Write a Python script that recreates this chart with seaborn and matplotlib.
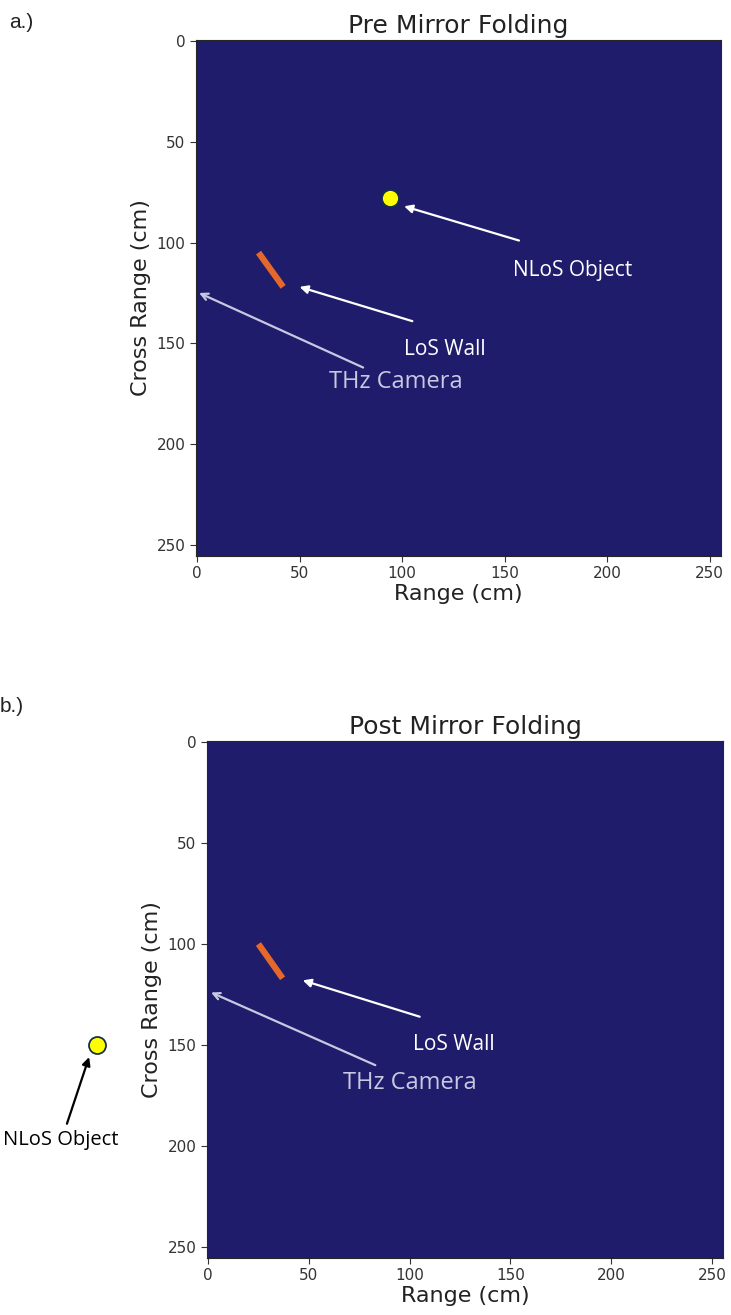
import numpy as np
import pandas as pd
import matplotlib
matplotlib.use("Agg")
import matplotlib.pyplot as plt
from matplotlib.colors import ListedColormap
import seaborn as sns

# scene data (cm)
grid_size = 256
titles = ["Pre Mirror Folding", "Post Mirror Folding"]
panel_tags = ["a.)", "b.)"]

# NLoS object position per panel
object_x = [94, -55]
object_y = [78, 150]

# LoS wall end points per panel
wall_x = [[30, 42], [25, 37]]
wall_y = [[105, 122], [100, 117]]

# callouts: text centre, arrow tail, arrow tip (data coords)
nlos_text = [(183, 114), (-73, 197)]
nlos_tail = [(157, 99), (-70, 189)]
nlos_tip = [(101, 82), (-59, 156)]
wall_text = [(121, 153), (122, 150)]
wall_tail = [(105, 139), (105, 136)]
wall_tip = [(50, 122), (47, 118)]
cam_text = [(97, 169), (100, 169)]
cam_tail = [(81, 162), (83, 160)]
cam_tip = [(1, 125), (1.5, 124)]

tick_vals = [0, 50, 100, 150, 200, 250]

NAVY = "#1f1c6b"
ORANGE = "#e5672a"
CAM_COLOR = "#c9c8e2"

sns.set_style("ticks")
plt.rcParams["font.family"] = ["DejaVu Sans"]

fig = plt.figure(figsize=(7.31, 13.15), dpi=100)
positions = [
    [0.2681, 0.5772, 0.7182, 0.3924],
    [0.2832, 0.0433, 0.7059, 0.3932],
]
tag_pos = [(0.013, 0.983), (0.0, 0.463)]


def callout(ax, label, text_xy, tail, tip, color, size, style):
    ax.text(*text_xy, label, ha="center", va="center", color=color,
            fontsize=size, family=["Open Sans"], clip_on=False)
    ax.annotate("", xy=tip, xytext=tail, annotation_clip=False,
                arrowprops=dict(arrowstyle=style, color=color, lw=1.6,
                                mutation_scale=12, shrinkA=0, shrinkB=0))


for i in range(2):
    ax = fig.add_axes(positions[i])
    field = np.zeros((grid_size, grid_size))
    ax.imshow(field, cmap=ListedColormap([NAVY]), aspect="auto",
              interpolation="nearest")

    wall = pd.DataFrame({"x": wall_x[i], "y": wall_y[i]})
    sns.lineplot(data=wall, x="x", y="y", ax=ax, color=ORANGE, lw=4.5,
                 sort=False, solid_capstyle="butt")

    obj = pd.DataFrame({"x": [object_x[i]], "y": [object_y[i]]})
    sns.scatterplot(data=obj, x="x", y="y", ax=ax, s=150, color="#ffff00",
                    edgecolor="#17304a", linewidth=1.3, clip_on=False,
                    zorder=5)

    ax.set_xlim(-0.5, grid_size - 0.5)
    ax.set_ylim(grid_size - 0.5, -0.5)
    ax.set_xticks(tick_vals)
    ax.set_yticks(tick_vals)
    ax.tick_params(labelsize=11, colors="#333333", length=4)
    ax.set_xlabel("Range (cm)", fontsize=16, color="#222222", labelpad=2)
    ax.set_ylabel("Cross Range (cm)", fontsize=16, color="#222222")
    ax.set_title(titles[i], fontsize=18, color="#222222", pad=5)

    nlos_color = "white" if i == 0 else "black"
    nlos_size = 15 if i == 0 else 14.5
    callout(ax, "NLoS Object", nlos_text[i], nlos_tail[i], nlos_tip[i],
            nlos_color, nlos_size, "-|>")
    callout(ax, "LoS Wall", wall_text[i], wall_tail[i], wall_tip[i],
            "white", 15, "-|>")
    callout(ax, "THz Camera", cam_text[i], cam_tail[i], cam_tip[i],
            CAM_COLOR, 17, "->")

    fig.text(tag_pos[i][0], tag_pos[i][1], panel_tags[i], fontsize=15,
             family=["Liberation Sans"], color="#222222", va="center")

fig.savefig("out.png", dpi=100)
